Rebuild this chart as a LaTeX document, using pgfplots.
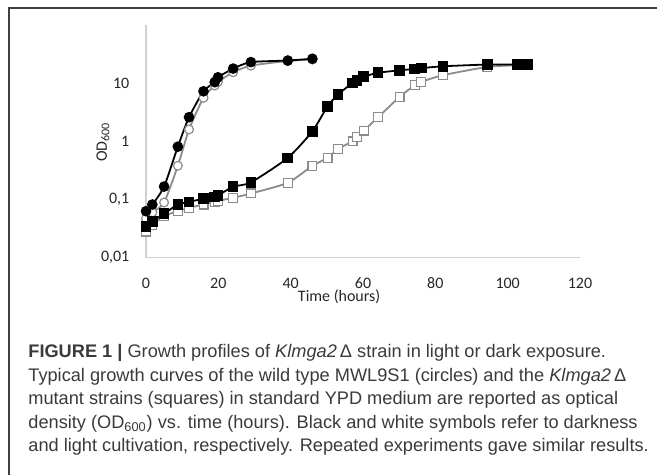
\documentclass[border=0pt]{standalone}
\usepackage{graphicx}
\usepackage{pgfplots}
\pgfplotsset{compat=1.18}
\usepackage{fontspec}
\setmainfont{Carlito}
\newfontfamily\capfont{Liberation Sans}
\definecolor{capgray}{HTML}{3A3A3A}
\definecolor{axgray}{HTML}{D0D0D0}
\definecolor{lightser}{HTML}{8C8C8C}

\begin{document}
\begin{tikzpicture}
\path[use as bounding box] (0,0) rectangle (328.5pt,237.5pt);
% frame (only top and left edges show in the crop)
\draw[line width=1pt, black!75] (4.25pt,0) -- (4.25pt,233.25pt) -- (328.5pt,233.25pt);

\begin{axis}[
  at={(73pt,108.65pt)}, anchor=south west,
  scale only axis,
  width=217pt, height=116.35pt,
  ymode=log,
  xmin=0, xmax=120,
  ymin=0.01, ymax=100,
  axis x line=bottom, axis y line=left,
  axis line style={axgray, line width=0.6pt, -},
  major tick length=0pt, minor tick length=0pt,
  tick style={draw=none},
  xtick={0,20,...,120},
  ytick={0.01,0.1,1,10},
  yticklabels={0{,}01,0{,}1,1,10},
  font=\fontsize{8}{9}\selectfont,
  /pgf/number format/assume math mode=true,
  ticklabel style={text=black!85},
  xticklabel style={yshift=-6.5pt},
  yticklabel style={xshift=-4.8pt},
  xlabel={Time (hours)},
  xlabel style={at={(axis description cs:0.445,0)}, anchor=center, yshift=-19.6pt, text=black!85},
  clip=false,
]
% light cultivation, wild type (white circles)
\addplot[lightser, line width=0.9pt, smooth, tension=0.4,
  mark=*, mark size=2.2pt, mark options={fill=white, draw=lightser, line width=0.6pt}]
  coordinates {
    (0,0.047) (1.75,0.06) (5,0.089) (8.8,0.38) (11.9,1.6) (15.9,5.6)
    (19,9.1) (19.9,10.5) (24.1,15.4) (29,20) (39.2,24) (46,25.5)
  };
% light cultivation, Klmga2 mutant (white squares)
\addplot[lightser, line width=0.9pt, smooth, tension=0.4,
  mark=square*, mark size=2.2pt, mark options={fill=white, draw=lightser, line width=0.6pt}]
  coordinates {
    (0,0.028) (1.75,0.036) (5,0.052) (8.8,0.063) (11.9,0.072) (15.9,0.082)
    (19,0.091) (19.9,0.095) (24.1,0.107) (29,0.127) (39.2,0.194) (46,0.38)
    (50.2,0.52) (53.1,0.74) (57.1,1.0) (58.3,1.19) (60.2,1.53) (64.2,2.6)
    (70.1,5.8) (74.3,9.2) (76.1,10.5) (82.1,13.7) (94.4,19.0) (102.6,20.3)
    (105.4,20.3)
  };
% darkness, wild type (black circles)
\addplot[black, line width=0.9pt, smooth, tension=0.4,
  mark=*, mark size=2.2pt, mark options={fill=black}]
  coordinates {
    (0,0.063) (1.75,0.082) (5,0.167) (8.8,0.81) (11.9,2.6) (15.9,7.25)
    (19,10.4) (19.9,12.6) (24.1,17.8) (29,23) (39.2,24.5) (46,26.3)
  };
% darkness, Klmga2 mutant (black squares)
\addplot[black, line width=0.9pt, smooth, tension=0.4,
  mark=square*, mark size=2.2pt, mark options={fill=black}]
  coordinates {
    (0,0.034) (1.75,0.042) (5,0.057) (8.8,0.082) (11.9,0.091) (15.9,0.103)
    (19,0.11) (19.9,0.117) (24.1,0.166) (29,0.197) (39.2,0.52) (46,1.49)
    (50.2,4.0) (53.1,6.4) (57.1,10.1) (58.3,11.2) (60.2,12.9) (64.2,15.1)
    (70.1,16.6) (74.3,17.6) (76.1,18.1) (82.1,19.5) (94.4,20.9) (102.6,20.9)
    (105.4,20.9)
  };
\end{axis}

% y axis title
\node[anchor=center, inner sep=0pt, text=black!85, font=\fontsize{8}{9}\selectfont]
  at (51.5pt,166.5pt) {\rotatebox{90}{OD\textsubscript{600}}};

% caption
\begin{scope}[every node/.style={anchor=base west, inner sep=0pt, text=capgray,
    font=\capfont\fontsize{9.1}{11}\selectfont}]
\node at (14pt,58.5pt) {\textbf{FIGURE 1 |} Growth profiles of \textit{Klmga2}\,Δ strain in light or dark exposure.};
\node at (14pt,46.75pt) {Typical growth curves of the wild type MWL9S1 (circles) and the \textit{Klmga2}\,Δ};
\node at (14pt,35pt) {mutant strains (squares) in standard YPD medium are reported as optical};
\node at (14pt,23.25pt) {density (OD\textsubscript{600}) vs. time (hours). Black and white symbols refer to darkness};
\node at (14pt,11.5pt) {and light cultivation, respectively. Repeated experiments gave similar results.};
\end{scope}
\end{tikzpicture}
\end{document}
